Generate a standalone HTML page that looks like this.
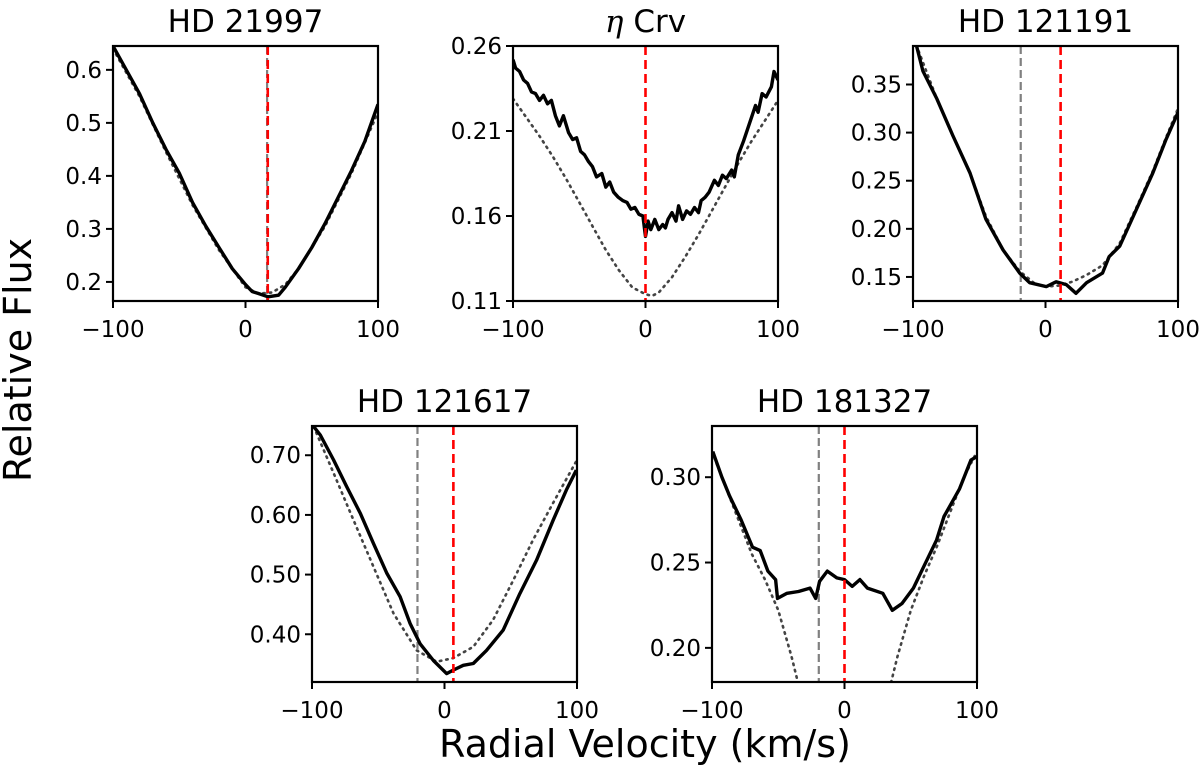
<!DOCTYPE html>
<html><head><meta charset="utf-8"><style>
body{margin:0;background:#fff}
svg{display:block;font-family:"DejaVu Sans","Liberation Sans",sans-serif}
</style></head><body>
<svg id="fig" width="1200" height="773" viewBox="0 0 1200 773">
<text x="31" y="360" font-size="38" text-anchor="middle" transform="rotate(-90 31 360)">Relative Flux</text>
<text x="645" y="757" font-size="38" text-anchor="middle">Radial Velocity (km/s)</text>
</svg>
<script>
const titles = ["HD 21997", "η Crv", "HD 121191", "HD 121617", "HD 181327"];
const yLimits = [[0.164,0.645],[0.11,0.26],[0.125,0.39],[0.32,0.749],[0.18,0.33]];
const yTicks = [[0.2,0.3,0.4,0.5,0.6],[0.11,0.16,0.21,0.26],[0.15,0.2,0.25,0.3,0.35],[0.4,0.5,0.6,0.7],[0.2,0.25,0.3]];
const yTickLabels = [["0.2","0.3","0.4","0.5","0.6"],["0.11","0.16","0.21","0.26"],["0.15","0.20","0.25","0.30","0.35"],["0.40","0.50","0.60","0.70"],["0.20","0.25","0.30"]];
const xTicks = [-100,0,100];
const xTickLabels = ["−100","0","100"];
const redLines = [16.8, 0, 11.4, 6.7, 0];
const greyLines = [16.3, null, -18.7, -20.4, -19.4];
const obsV = [
 [-100,-90,-80,-70,-60,-50,-40,-30,-20,-10,0,5,10,17,25,30,40,50,60,70,80,90,100],
 [-100,-98,-95,-92,-89,-86,-83,-80,-77,-74,-71,-68,-65,-62,-58,-55,-52,-49,-46,-43,-40,-37,-33,-30,-27,-24,-20.5,-17,-14,-11,-8,-5,-2,0,2,4,7,10,13,15,17,20,23,25,28,31,34,37,40,42,45,48,52,55,58,61,65,67,70,74,77,80,83,85,88,91,95,97,100],
 [-97.5,-92.5,-82,-70,-57,-45,-32,-19.5,-12,0.6,8,15.7,23,31,43,48,56,68.5,81,91,100],
 [-98.7,-93.7,-83.7,-73.7,-63.6,-53.6,-43.5,-33.5,-26,-18.4,-8.4,1.6,6.6,14.2,21.7,31.7,44.3,56.8,69.4,82,92,99.5],
 [-99.4,-92.5,-86.7,-78,-69.4,-63.6,-57.8,-52,-50.6,-43.4,-34.7,-26,-21.7,-18.8,-13,-5.8,0,5.8,11.6,17.3,28.9,36.1,43.4,52,60.7,69.4,75.1,86.7,95.4,99.7]
];
const obsF = [
 [0.645,0.60,0.555,0.50,0.45,0.405,0.35,0.305,0.265,0.225,0.195,0.182,0.178,0.172,0.175,0.19,0.225,0.265,0.31,0.36,0.41,0.465,0.535],
 [0.252,0.247,0.245,0.240,0.238,0.233,0.232,0.228,0.231,0.226,0.228,0.219,0.213,0.219,0.209,0.205,0.206,0.198,0.196,0.192,0.189,0.183,0.185,0.177,0.180,0.174,0.171,0.169,0.168,0.164,0.165,0.161,0.160,0.148,0.157,0.152,0.158,0.152,0.155,0.153,0.158,0.162,0.157,0.166,0.158,0.163,0.161,0.165,0.162,0.169,0.171,0.174,0.181,0.178,0.184,0.182,0.187,0.183,0.196,0.204,0.211,0.218,0.225,0.221,0.232,0.230,0.236,0.245,0.240],
 [0.391,0.364,0.335,0.297,0.258,0.21,0.178,0.154,0.144,0.14,0.145,0.142,0.133,0.144,0.154,0.171,0.182,0.22,0.258,0.293,0.321],
 [0.748,0.734,0.692,0.647,0.603,0.552,0.502,0.463,0.418,0.384,0.356,0.334,0.34,0.348,0.351,0.373,0.407,0.468,0.524,0.591,0.642,0.675],
 [0.315,0.300,0.289,0.275,0.259,0.257,0.245,0.24,0.229,0.232,0.233,0.235,0.229,0.239,0.245,0.241,0.24,0.236,0.24,0.235,0.232,0.222,0.226,0.235,0.249,0.263,0.277,0.293,0.31,0.312]
];
const modV = [
 [-100,-80,-60,-40,-20,0,10,20,30,40,60,80,100],
 [-100,-90,-80,-70,-60,-50,-40,-30,-20,-10,0,5,10,20,30,40,50,60,70,80,90,100],
 [-97.5,-82,-70,-57,-45,-32,-19.5,-8,0,10,20,31,43,56,68.5,81,91,100],
 [-98.7,-83.7,-68.6,-53.6,-38.5,-21,-6,6.6,21.7,36.7,51.8,66.8,82,99.5],
 [-100,-80,-70,-60,-50,-40,-34,34,40,50,60,70,80,90,100]
];
const modF = [
 [0.64,0.55,0.445,0.345,0.26,0.19,0.178,0.18,0.195,0.225,0.305,0.405,0.52],
 [0.229,0.218,0.207,0.195,0.182,0.168,0.154,0.14,0.128,0.118,0.114,0.113,0.115,0.124,0.136,0.149,0.163,0.177,0.191,0.204,0.216,0.228],
 [0.391,0.335,0.297,0.258,0.213,0.178,0.156,0.143,0.14,0.141,0.145,0.152,0.162,0.185,0.222,0.26,0.295,0.325],
 [0.748,0.67,0.591,0.513,0.435,0.373,0.354,0.36,0.379,0.424,0.49,0.558,0.62,0.69],
 [0.315,0.275,0.255,0.24,0.222,0.195,0.176,0.176,0.195,0.222,0.242,0.26,0.28,0.3,0.315]
];
const boxes = [[113,46,265,255],[513,46,265,255],[913,46,265,255],[312,426,265,256],[712,426,265,256]];
const NS="http://www.w3.org/2000/svg";
const svg=document.getElementById('fig');
function mk(tag,attrs,parent){const e=document.createElementNS(NS,tag);for(const k in attrs)e.setAttribute(k,attrs[k]);(parent||svg).appendChild(e);return e;}
boxes.forEach((b,i)=>{
  const [L,T,W,H]=b;
  const xs=v=>L+(v+100)/200*W;
  const ys=f=>T+H-(f-yLimits[i][0])/(yLimits[i][1]-yLimits[i][0])*H;
  const g=mk('g',{});
  
  
  const cid='clip'+i;
  const cp=mk('clipPath',{id:cid},g);mk('rect',{x:L,y:T,width:W,height:H},cp);
  const t=mk('text',{x:L+W/2,y:T-14,'font-size':31,'text-anchor':'middle'},g);
  if(i===1){t.innerHTML='<tspan font-style="italic" font-family="DejaVu Serif, serif">η</tspan> Crv';}else t.textContent=titles[i];
  
  
  const pg=mk('g',{'clip-path':'url(#'+cid+')'},g);
  let md=modV[i].map((v,k)=>(k?'L':'M')+xs(v).toFixed(1)+','+ys(modF[i][k]).toFixed(1)).join('');
  if(i===4){md=modV[i].map((v,k)=>((k===0||k===7)?'M':'L')+xs(v).toFixed(1)+','+ys(modF[i][k]).toFixed(1)).join('');}
  const mp=mk('path',{d:md,fill:'none',stroke:'#444','stroke-width':2.6,'stroke-dasharray':'1.5 5','stroke-linecap':'round'},pg);
  
  
  if(greyLines[i]!==null){const gl=mk('line',{x1:xs(greyLines[i]),x2:xs(greyLines[i]),y1:T,y2:T+H,stroke:'#808080','stroke-width':2.2,'stroke-dasharray':'8 4'},pg);
    
    }
  const od=obsV[i].map((v,k)=>(k?'L':'M')+xs(v).toFixed(1)+','+ys(obsF[i][k]).toFixed(1)).join('');
  const op=mk('path',{d:od,fill:'none',stroke:'#000','stroke-width':3.4,'stroke-linejoin':'round'},pg);
  
  
  const rl=mk('line',{x1:xs(redLines[i]),x2:xs(redLines[i]),y1:T,y2:T+H,stroke:'#ff0000','stroke-width':2.6,'stroke-dasharray':'9 5'},pg);
  
  
  const fr=mk('rect',{x:L,y:T,width:W,height:H,fill:'none',stroke:'#000','stroke-width':2.2},g);
  
  
  yTicks[i].forEach((v,k)=>{const y=ys(v);mk('line',{x1:L-7,x2:L,y1:y,y2:y,stroke:'#000','stroke-width':2},g);
    const tl=mk('text',{x:L-11,y:y+8,'font-size':23,'text-anchor':'end'},g);tl.textContent=yTickLabels[i][k];
    
    });
  xTicks.forEach((v,k)=>{const x=xs(v);mk('line',{x1:x,x2:x,y1:T+H,y2:T+H+7,stroke:'#000','stroke-width':2},g);
    const tl=mk('text',{x:x,y:T+H+36,'font-size':23,'text-anchor':'middle'},g);tl.textContent=xTickLabels[k];
    
    });
});
</script>
</body></html>
